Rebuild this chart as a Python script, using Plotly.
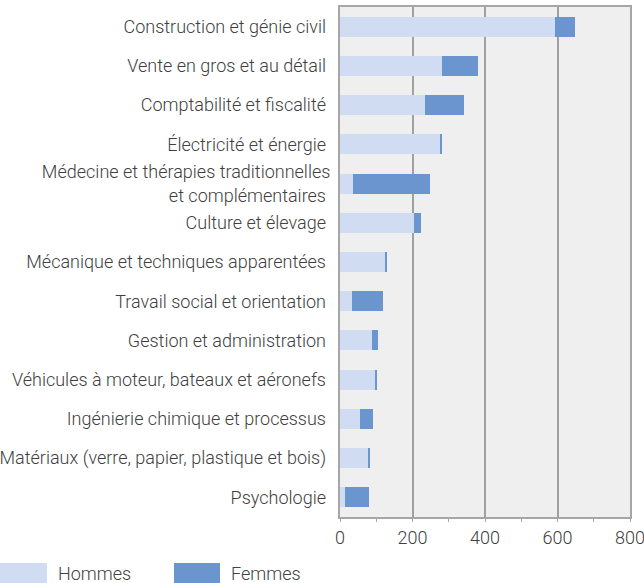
import plotly.graph_objects as go

categories = [
    "Construction et génie civil",
    "Vente en gros et au détail",
    "Comptabilité et fiscalité",
    "Électricité et énergie",
    "Médecine et thérapies traditionnelles<br>et complémentaires",
    "Culture et élevage",
    "Mécanique et techniques apparentées",
    "Travail social et orientation",
    "Gestion et administration",
    "Véhicules à moteur, bateaux et aéronefs",
    "Ingénierie chimique et processus",
    "Matériaux (verre, papier, plastique et bois)",
    "Psychologie",
]
hommes = [592, 280, 234, 278, 35, 203, 126, 32, 87, 98, 54, 79, 13]
femmes = [55, 102, 107, 3, 212, 20, 5, 86, 17, 3, 36, 3, 66]
series_names = ["Hommes", "Femmes"]
x_ticks = [0, 200, 400, 600, 800]

light = "#cfdcf2"
dark = "#6a95cf"
txt = "#404040"
FONT = "Roboto"

W, H = 644, 583
L, R, T, B = 340, 630, 7, 517

fig = go.Figure()
fig.add_trace(go.Bar(y=categories, x=hommes, name=series_names[0], orientation="h",
                     marker=dict(color=light, line=dict(width=0)), width=0.51))
fig.add_trace(go.Bar(y=categories, x=femmes, name=series_names[1], orientation="h",
                     marker=dict(color=dark, line=dict(width=0)), width=0.51))

def px_x(p):
    return (p - L) / (R - L)

def px_y(p):
    return (B - p) / (B - T)

# manual legend (page pixel positions)
leg = [(0, 47, 58, series_names[0], light), (174, 220, 231, series_names[1], dark)]
for x0, x1, tx, name, col in leg:
    fig.add_shape(type="rect", xref="paper", yref="paper",
                  x0=px_x(x0), x1=px_x(x1), y0=px_y(583), y1=px_y(563),
                  fillcolor=col, line=dict(width=0), layer="above")
    fig.add_annotation(xref="paper", yref="paper", x=px_x(tx - 2), y=px_y(573),
                       text=name, showarrow=False, xanchor="left", yanchor="middle",
                       font=dict(family=FONT, size=18, color=txt, weight=300))

fig.update_layout(
    barmode="stack",
    width=W, height=H,
    margin=dict(l=L, r=W - R, t=T, b=H - B, pad=0, autoexpand=False),
    paper_bgcolor="white",
    plot_bgcolor="#efefef",
    showlegend=False,
    font=dict(family=FONT, size=18, color=txt, weight=300),
    xaxis=dict(range=[0, 800], tickvals=x_ticks, showgrid=True, gridcolor="#a0a0a0",
               gridwidth=1.5, showline=True, mirror=True, linecolor="#a6a6a6", linewidth=2,
               ticks="outside", ticklen=3, tickcolor="#a6a6a6", automargin=False,
               ticklabeloverflow="allow",
               minor=dict(dtick=100, ticks="outside", ticklen=3, tickcolor="#a6a6a6", showgrid=False),
               tickfont=dict(size=18, color=txt, family=FONT, weight=300), zeroline=False,
               fixedrange=True),
    yaxis=dict(autorange="reversed", showline=True, mirror=True, linecolor="#a6a6a6",
               linewidth=2, ticks="outside", ticklen=4, tickcolor="rgba(0,0,0,0)",
               ticksuffix=" ", showgrid=False, automargin=False, ticklabeloverflow="allow",
               tickfont=dict(size=18, color=txt, family=FONT, weight=300)),
)

fig.write_html("out.html", config={"displayModeBar": False},
               post_script="document.body.style.margin='0';")
